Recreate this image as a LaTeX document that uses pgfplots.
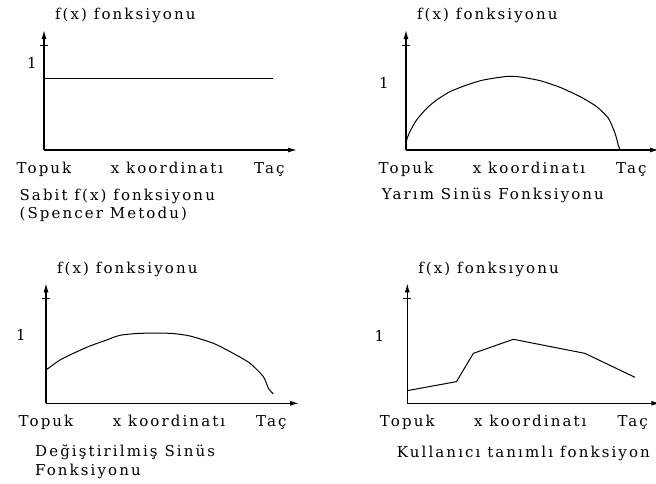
\documentclass[border=0pt]{standalone}
\usepackage{fontspec}
\setmainfont{DejaVu Serif}[LetterSpace=14]
\usepackage{pgfplots}
\pgfplotsset{compat=1.18}
\usetikzlibrary{arrows.meta}
\newcommand\chartfont{\fontsize{15}{18}\selectfont}
\pgfplotsset{
  every axis/.append style={font=\chartfont},
  panel/.style={
    scale only axis, width=253pt, height=120pt,
    xmin=0, xmax=1.1, ymin=0, ymax=1.667,
    axis lines=left,
    axis line style={line width=1.2pt, -{Latex[length=9pt,width=5pt]}},
    xtick={0,0.535,0.98}, xticklabels={Topuk, x koordinatı, Taç},
    major tick length=0pt,
    tick label style={font=\chartfont},
    xticklabel style={anchor=base, yshift=-23pt},
    extra y ticks={1.458}, extra y tick labels={},
    extra y tick style={major tick length=8pt, tick align=center, tick style={line width=1pt, black}},
    clip=false,
    anchor=south west,
  },
  curve/.style={black, line width=1pt, mark=none},
}
\tikzset{txt/.style={anchor=base west, inner xsep=0pt, font=\chartfont}}
\begin{document}
\chartfont
\begin{tikzpicture}[font=\chartfont]
\path[use as bounding box] (0,0) rectangle (656pt,483pt);
% Panel 1
\begin{axis}[panel, at={(44pt,333pt)},
  ytick={1.215}, yticklabels={1}, yticklabel style={anchor=center, xshift=-12pt}]
\addplot[curve] coordinates {(0,1.0) (0.994,1.0)};
\node[txt] at (axis cs:0.047,1.806) {f(x) fonksiyonu};
\node[txt] at (axis cs:-0.107,-0.708) {Sabit f(x) fonksiyonu};
\node[txt] at (axis cs:-0.107,-0.958) {(Spencer Metodu)};
\end{axis}
% Panel 2
\begin{axis}[panel, at={(406pt,333pt)},
  ytick={0.93}, yticklabels={1}, yticklabel style={anchor=center, xshift=-22pt}]
\addplot[curve, smooth, tension=0.4] coordinates {
(0,0) (0.003,0.139) (0.017,0.255) (0.046,0.417) (0.09,0.579) (0.133,0.694)
(0.191,0.81) (0.264,0.903) (0.336,0.972) (0.438,1.022) (0.496,1.015)
(0.583,0.963) (0.67,0.87) (0.757,0.741) (0.829,0.602) (0.88,0.44)
(0.909,0.231) (0.923,0.069) (0.93,0)};
\node[txt] at (axis cs:0.047,1.806) {f(x) fonksiyonu};
\node[txt] at (axis cs:-0.106,-0.681) {Yarım Sinüs Fonksiyonu};
\end{axis}
% Panel 3
\begin{axis}[panel, at={(46pt,79.7pt)},
  ytick={0.95}, yticklabels={1}, yticklabel style={anchor=center, xshift=-25pt}]
\addplot[curve, smooth, tension=0.4] coordinates {
(0,0.463) (0.061,0.602) (0.119,0.694) (0.191,0.796) (0.264,0.88) (0.322,0.945)
(0.409,0.972) (0.539,0.972) (0.626,0.935) (0.728,0.833) (0.814,0.694)
(0.887,0.556) (0.945,0.37) (0.967,0.208) (0.988,0.13)};
\node[txt] at (axis cs:0.047,1.806) {f(x) fonksiyonu};
\node[txt] at (axis cs:-0.048,-0.742) {Değiştirilmiş Sinüs};
\node[txt] at (axis cs:-0.048,-0.996) {Fonksiyonu};
\end{axis}
% Panel 4
\begin{axis}[panel, at={(407.3pt,79.7pt)},
  ytick={0.935}, yticklabels={1}, yticklabel style={anchor=center, xshift=-28pt}]
\addplot[curve] coordinates {
(0,0.176) (0.214,0.301) (0.287,0.694) (0.461,0.889) (0.772,0.694) (0.99,0.361)};
\node[txt] at (axis cs:0.047,1.806) {f(x) fonksıyonu};
\node[txt] at (axis cs:-0.046,-0.75) {Kullanıcı tanımlı fonksiyon};
\end{axis}
\end{tikzpicture}
\end{document}
